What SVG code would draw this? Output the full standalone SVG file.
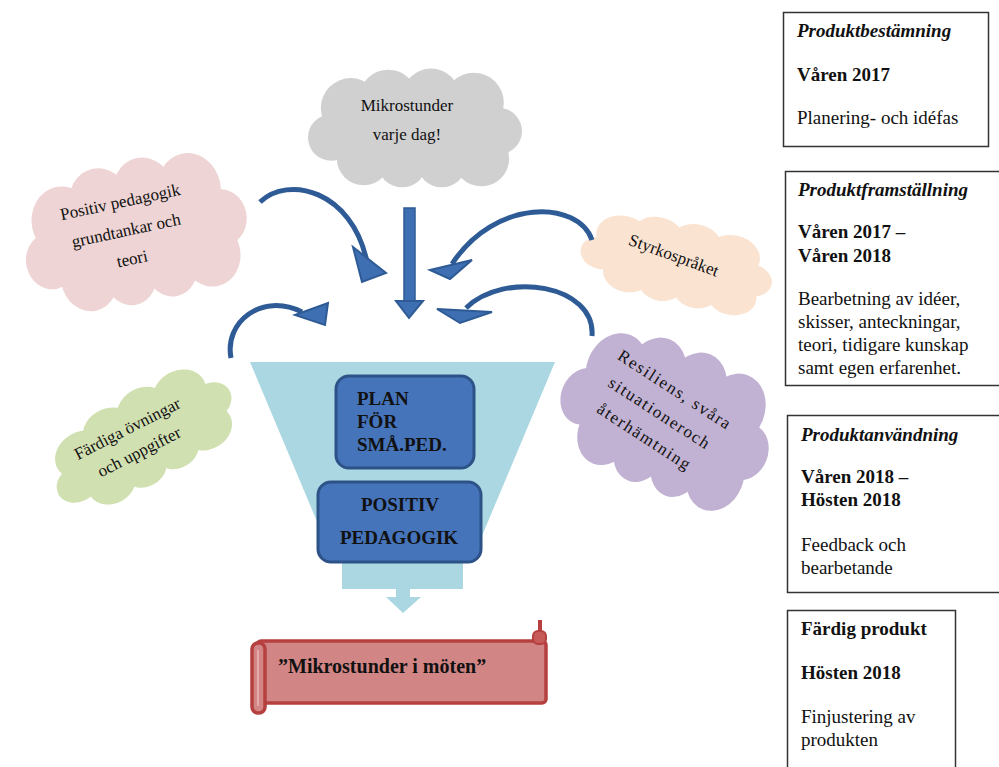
<svg xmlns="http://www.w3.org/2000/svg" width="999" height="767" viewBox="0 0 999 767">
<style>
.t{font-family:"Liberation Serif","Times New Roman",serif;fill:#111}
.cl{font-size:17px;text-anchor:middle}
.bx{font-size:19px;font-weight:bold}
.box{fill:#fff;stroke:#333;stroke-width:1.5}
.bi{font-style:italic;font-weight:bold}
.b{font-weight:bold}
.r{font-size:19px}
.curve{fill:none;stroke:#2e5b95;stroke-width:5;stroke-linecap:butt}
.head{fill:#3e6fb2;stroke:#2e5b95;stroke-width:2;stroke-linejoin:miter}
.blue{fill:#4574ba;stroke:#2c5288;stroke-width:3}
</style>
<defs>
<g id="cloud">
<ellipse cx="0" cy="0" rx="76" ry="38"/>
<circle cx="-78" cy="8" r="22"/>
<circle cx="-60" cy="-20" r="28"/>
<circle cx="-25" cy="-29" r="27"/>
<circle cx="15" cy="-30" r="27"/>
<circle cx="55" cy="-25" r="28"/>
<circle cx="78" cy="2" r="22"/>
<circle cx="62" cy="28" r="26"/>
<circle cx="25" cy="32" r="23"/>
<circle cx="-12" cy="32" r="23"/>
<circle cx="-48" cy="28" r="25"/>
</g>
</defs>
<rect width="999" height="767" fill="#fff"/>

<g id="cloud-mikrostunder">
<use href="#cloud" transform="translate(415,129) scale(1.07,1.06)" fill="#d0d0d0"/>
<text class="t cl" x="407" y="111">Mikrostunder</text>
<text class="t cl" x="407" y="140">varje dag!</text>
</g>

<g id="cloud-positiv">
<use href="#cloud" transform="translate(135,233) rotate(-12) scale(1.13,1.28)" fill="#eed4d4"/>
<g transform="translate(126,230) rotate(-12)">
<text class="t cl" x="0" y="-23">Positiv pedagogik</text>
<text class="t cl" x="0" y="6">grundtankar och</text>
<text class="t cl" x="0" y="35">teori</text>
</g>
</g>

<g id="cloud-fardiga">
<use href="#cloud" transform="translate(142,439) rotate(-30) scale(1.0,0.82)" fill="#d1e0b1"/>
<g transform="translate(133,440) rotate(-27)">
<text class="t cl" x="0" y="-7">Färdiga övningar</text>
<text class="t cl" x="0" y="19">och uppgifter</text>
</g>
</g>

<g id="cloud-styrko">
<use href="#cloud" transform="translate(677,263) rotate(12) scale(0.97,0.74)" fill="#fae3d1"/>
<text class="t cl" transform="translate(674,255) rotate(20)" x="0" y="6">Styrkospråket</text>
</g>

<g id="cloud-resiliens">
<use href="#cloud" transform="translate(667,418) rotate(22) scale(1.08,1.32)" fill="#c1b1d2"/>
<g transform="translate(660,413) rotate(33)">
<text class="t cl" x="0" y="-22" font-size="16.5" letter-spacing="1.6">Resiliens, svåra</text>
<text class="t cl" x="0" y="6" font-size="16.5" letter-spacing="1.6">situationeroch</text>
<text class="t cl" x="0" y="34" font-size="16.5" letter-spacing="1.6">återhämtning</text>
</g>
</g>

<g id="funnel">
<polygon points="250,362 555,362 471,562 463,562 463,589 342,589 342,562 334,562" fill="#abd7e2"/>
<polygon points="396,589 410,589 410,597 421,597 403,613 386,597 396,597" fill="#abd7e2"/>
</g>

<g id="plan">
<rect class="blue" x="336" y="376" width="138" height="92" rx="13"/>
<text class="t bx" x="357" y="405">PLAN</text>
<text class="t bx" x="357" y="428">FÖR</text>
<text class="t bx" x="357" y="451">SMÅ.PED.</text>
</g>

<g id="positiv-pedagogik">
<rect class="blue" x="318" y="482" width="163" height="80" rx="13"/>
<text class="t bx" x="400" y="511" text-anchor="middle">POSITIV</text>
<text class="t bx" x="399" y="544" text-anchor="middle">PEDAGOGIK</text>
</g>

<g id="scroll">
<rect x="257" y="641" width="289" height="62" rx="4" fill="#d18585" stroke="#b5403f" stroke-width="3.5"/>
<rect x="252" y="643" width="13" height="70" rx="6" fill="#d18585" stroke="#b5403f" stroke-width="3.5"/>
<line x1="258" y1="650" x2="258" y2="706" stroke="#e6aaaa" stroke-width="2"/>
<rect x="538" y="620" width="4" height="14" fill="#b5403f"/>
<rect x="533" y="631" width="13" height="13" rx="5" fill="#c65a59" stroke="#b5403f" stroke-width="2"/>
<text class="t b" x="278" y="673" font-size="20">”Mikrostunder i möten”</text>
</g>

<g id="connectors">
<rect x="404" y="208" width="11" height="94" fill="#3e6fb2" stroke="#2e5b95" stroke-width="1.5"/>
<polygon class="head" points="396,301 423,301 409,318"/>
<path class="curve" d="M260,202 C288,175 352,190 367,262"/>
<polygon class="head" points="353,247 386,273 362,282"/>
<path class="curve" d="M231,358 C224,322 262,292 302,312"/>
<polygon class="head" points="295,315 328,303 325,325"/>
<path class="curve" d="M592,240 C578,200 495,198 452,264"/>
<polygon class="head" points="430,270 472,260 450,279"/>
<path class="curve" d="M592,336 C596,285 505,270 466,308"/>
<polygon class="head" points="437,309 492,312 460,323"/>
</g>

<g id="phase-1">
<rect class="box" x="783.5" y="12.5" width="205" height="134"/>
<text class="t r bi" x="797" y="37">Produktbestämning</text>
<text class="t r b" x="797" y="81">Våren 2017</text>
<text class="t r" x="797" y="124">Planering- och idéfas</text>
</g>

<g id="phase-2">
<rect class="box" x="785.5" y="171.5" width="225" height="214"/>
<text class="t r bi" x="798" y="196">Produktframställning</text>
<text class="t r b" x="798" y="238">Våren 2017 –</text>
<text class="t r b" x="798" y="262">Våren 2018</text>
<text class="t r" x="798" y="305">Bearbetning av idéer,</text>
<text class="t r" x="798" y="328">skisser, anteckningar,</text>
<text class="t r" x="798" y="351">teori, tidigare kunskap</text>
<text class="t r" x="798" y="374">samt egen erfarenhet.</text>
</g>

<g id="phase-3">
<rect class="box" x="787.5" y="415.5" width="225" height="177"/>
<text class="t r bi" x="801" y="441">Produktanvändning</text>
<text class="t r b" x="801" y="483">Våren 2018 –</text>
<text class="t r b" x="801" y="506">Hösten 2018</text>
<text class="t r" x="801" y="551">Feedback och</text>
<text class="t r" x="801" y="574">bearbetande</text>
</g>

<g id="phase-4">
<rect class="box" x="787.5" y="610.5" width="168" height="170"/>
<text class="t r b" x="801" y="635">Färdig produkt</text>
<text class="t r b" x="801" y="679">Hösten 2018</text>
<text class="t r" x="801" y="723">Finjustering av</text>
<text class="t r" x="801" y="746">produkten</text>
</g>
</svg>
